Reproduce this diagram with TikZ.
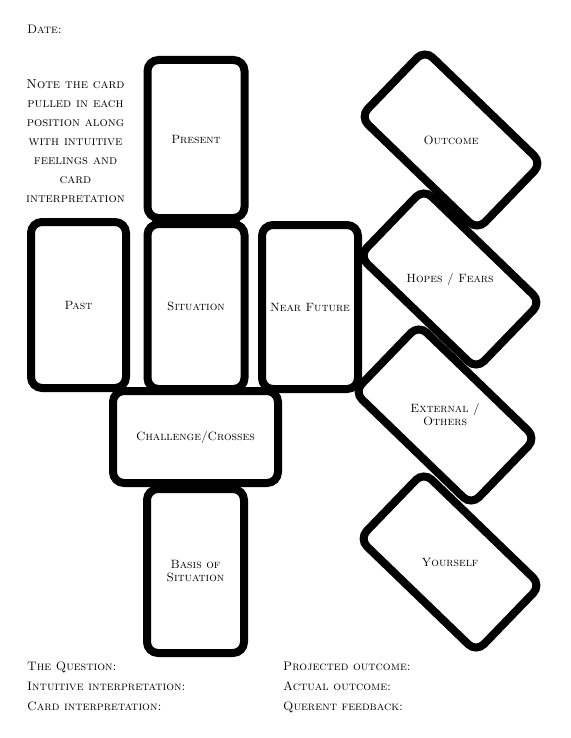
\documentclass[tikz,border=0pt]{standalone}
\usepackage{tikz}
\begin{document}
\begin{tikzpicture}[x=1pt,y=-1pt,
  card/.style={draw=black, line width=8pt, rounded corners=11pt, fill=white, inner sep=0pt},
  vcard/.style={card, minimum width=97pt, minimum height=165pt},
  dcard/.style={card, minimum width=163pt, minimum height=93pt, rotate=-44},
  lbl/.style={font=\fontsize{12}{13}\selectfont\scshape, text=black, align=center, inner sep=0pt},
  info/.style={font=\fontsize{12.3}{13}\selectfont\scshape, text=black, anchor=base west, inner sep=0pt}]
\useasboundingbox (0,0) rectangle (570,738);
\fill[white] (0,0) rectangle (570,738);

% vertical cards
\node[vcard, minimum height=158pt] (present) at (196,139) {};
\node[vcard, minimum width=95pt, minimum height=166pt] (past) at (78.5,305) {};
\node[vcard] (situation) at (196,306.5) {};
\node[vcard, minimum width=96pt, minimum height=164pt] (near) at (310,307) {};
\node[vcard, minimum height=164pt] (basis) at (195.5,571) {};
\node[card, minimum width=165pt, minimum height=92pt] (challenge) at (195.5,437) {};

% diagonal cards
\node[dcard] (yourself) at (450,562) {};
\node[dcard] (external) at (445,415) {};
\node[dcard] (hopes) at (450,279) {};
\node[dcard] (outcome) at (451,140) {};

% labels
\node[lbl] (lpresent) at (present.center) {Present};
\node[lbl] (lpast) at (past.center) {Past};
\node[lbl] (lsituation) at (situation.center) {Situation};
\node[lbl] (lnear) at (near.center) {Near Future};
\node[lbl] (lchallenge) at (challenge.center) {Challenge/Crosses};
\node[lbl] (lbasis) at (basis.center) {Basis of\\Situation};
\node[lbl] (loutcome) at (outcome.center) {Outcome};
\node[lbl] (lhopes) at (hopes.center) {Hopes / Fears};
\node[lbl] (lexternal) at (external.center) {External /\\Others};
\node[lbl] (lyourself) at (yourself.center) {Yourself};

% texts
\node[info] (date) at (27,34) {Date:};
\node[lbl, anchor=north, font=\fontsize{13}{19}\selectfont\scshape] (note) at (75.5,79)
  {Note the card\\pulled in each\\position along\\with intuitive\\feelings and\\card\\interpretation};

\node[info] (q1) at (27,670) {The Question:};
\node[info] (q2) at (27,690) {Intuitive interpretation:};
\node[info] (q3) at (27,710) {Card interpretation:};
\node[info] (q4) at (283,670) {Projected outcome:};
\node[info] (q5) at (283,690) {Actual outcome:};
\node[info] (q6) at (283,710) {Querent feedback:};
\end{tikzpicture}
\end{document}
